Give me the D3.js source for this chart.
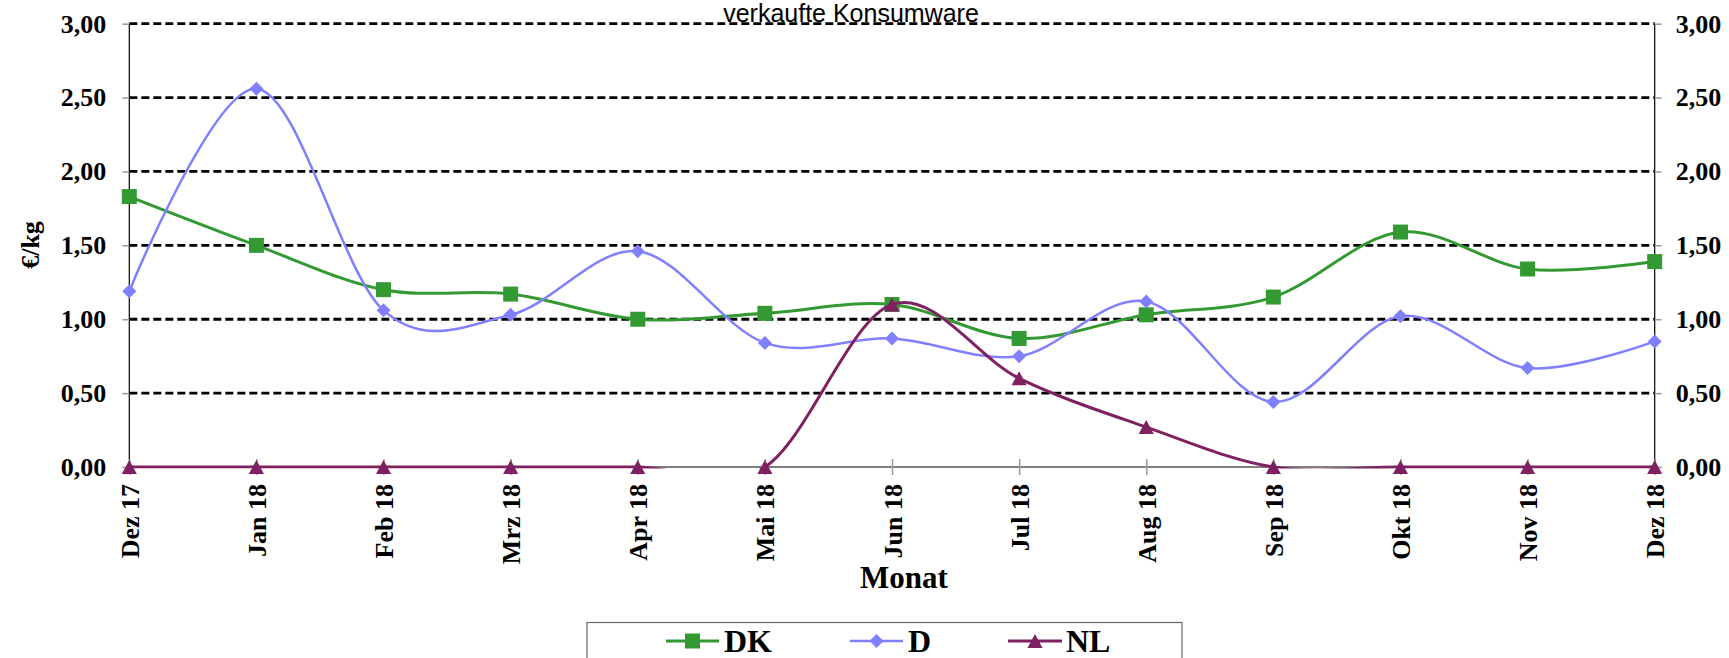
<!DOCTYPE html>
<html>
<head>
<meta charset="utf-8">
<script src="https://cdn.jsdelivr.net/npm/d3@7"></script>
<style>
  html, body { margin: 0; padding: 0; background: #fff; }
  svg { display: block; }
</style>
</head>
<body>
<svg id="chart" width="1729" height="658"></svg>
<script>
const months = ["Dez 17","Jan 18","Feb 18","Mrz 18","Apr 18","Mai 18","Jun 18","Jul 18","Aug 18","Sep 18","Okt 18","Nov 18","Dez 18"];
const dkValues = [1.83, 1.50, 1.20, 1.17, 1.00, 1.04, 1.10, 0.87, 1.03, 1.15, 1.59, 1.34, 1.39];
const dValues  = [1.19, 2.56, 1.06, 1.03, 1.46, 0.84, 0.87, 0.75, 1.12, 0.44, 1.02, 0.67, 0.85];
const nlValues = [0, 0, 0, 0, 0, 0, 1.10, 0.60, 0.27, 0, 0, 0, 0];
const yTickValues = [0, 0.5, 1.0, 1.5, 2.0, 2.5, 3.0];
const seriesNames = ["DK", "D", "NL"];
const titleText = "verkaufte Konsumware";
const yAxisTitle = "€/kg";
const xAxisTitle = "Monat";

(function () {
const colors = { DK: "#339933", D: "#8080ff", NL: "#7f2060" };
const series = [
  { name: "DK", values: dkValues, marker: "square", width: 3 },
  { name: "D", values: dValues, marker: "diamond", width: 2.5 },
  { name: "NL", values: nlValues, marker: "triangle", width: 3 }
];

const svg = d3.select("#chart");
const pLeft = 129.3, pRight = 1654.7, pTop = 23.7, pBottom = 467;
const x = d3.scalePoint().domain(months).range([pLeft, pRight]);
const y = d3.scaleLinear().domain([0, 3]).range([pBottom, pTop]);

const locale = d3.formatLocale({ decimal: ",", thousands: ".", grouping: [3], currency: ["", "€"] });
const fmt = locale.format(".2f");
const serif = "'Liberation Serif', 'Times New Roman', serif";

// Clip for the plot area (lines dipping under 0 are cut, as in the original)
svg.append("defs").append("clipPath").attr("id", "plotClip")
  .append("rect").attr("x", 0).attr("y", pTop - 5).attr("width", 1729).attr("height", pBottom - pTop + 6.5);

// Title
svg.append("text")
  .attr("x", 851).attr("y", 22)
  .attr("text-anchor", "middle")
  .attr("font-family", "'Liberation Sans', Arial, sans-serif")
  .attr("font-size", 25)
  .attr("fill", "#000")
  .text(titleText);

// Gridlines
svg.append("g").selectAll("line")
  .data(yTickValues.filter(v => v > 0))
  .join("line")
  .attr("x1", pLeft).attr("x2", pRight)
  .attr("y1", d => y(d)).attr("y2", d => y(d))
  .attr("stroke", "#000")
  .attr("stroke-width", 2.8)
  .attr("stroke-dasharray", "8,4");

// Left axis
const leftAxis = svg.append("g")
  .attr("transform", `translate(${pLeft},0)`)
  .call(d3.axisLeft(y).tickValues(yTickValues).tickFormat(fmt).tickSize(7).tickPadding(16));
// Right axis
const rightAxis = svg.append("g")
  .attr("transform", `translate(${pRight},0)`)
  .call(d3.axisRight(y).tickValues(yTickValues).tickFormat(fmt).tickSize(7).tickPadding(14));
[leftAxis, rightAxis].forEach(g => {
  g.select(".domain").attr("stroke", "#000").attr("stroke-width", 1.2).attr("d", `M0,${pTop}V${pBottom}`);
  g.selectAll(".tick line").attr("stroke", "#999").attr("stroke-width", 1.5);
  g.selectAll(".tick text")
    .attr("font-family", serif).attr("font-weight", "bold")
    .attr("font-size", 26).attr("fill", "#000");
});

// X axis
const xAxis = svg.append("g")
  .attr("transform", `translate(0,${pBottom})`)
  .call(d3.axisBottom(x).tickSize(8).tickSizeOuter(0));
xAxis.select(".domain").attr("d", `M${pLeft},0H${pRight}`).attr("stroke", "#000").attr("stroke-width", 1.2);
xAxis.selectAll(".tick line").attr("y1", -8).attr("y2", 8).attr("stroke", "#999").attr("stroke-width", 1.5);
xAxis.selectAll(".tick text")
  .attr("font-family", serif).attr("font-weight", "bold")
  .attr("font-size", 26).attr("fill", "#000")
  .attr("text-anchor", "end")
  .attr("transform", "rotate(-90)")
  .attr("x", -17).attr("y", 0).attr("dy", "0.35em");

// Axis titles
svg.append("text")
  .attr("transform", `translate(39,245) rotate(-90)`)
  .attr("text-anchor", "middle")
  .attr("font-family", serif).attr("font-weight", "bold")
  .attr("font-size", 26).attr("fill", "#000")
  .text(yAxisTitle);
svg.append("text")
  .attr("x", 904).attr("y", 588)
  .attr("text-anchor", "middle")
  .attr("font-family", serif).attr("font-weight", "bold")
  .attr("font-size", 31).attr("fill", "#000")
  .text(xAxisTitle);

// Marker shapes
const triangleType = { draw(ctx, size) { const h = Math.sqrt(size); ctx.moveTo(0, -h * 0.5); ctx.lineTo(h * 0.54, h * 0.5); ctx.lineTo(-h * 0.54, h * 0.5); ctx.closePath(); } };
const diamondType = { draw(ctx, size) { const r = Math.sqrt(size) / 2; ctx.moveTo(0, -r); ctx.lineTo(r, 0); ctx.lineTo(0, r); ctx.lineTo(-r, 0); ctx.closePath(); } };
const markerPath = {
  square: d3.symbol().type(d3.symbolSquare).size(225)(),
  diamond: d3.symbol().type(diamondType).size(196)(),
  triangle: d3.symbol().type(triangleType).size(196)()
};

const line = d3.line()
  .x((d, i) => x(months[i]))
  .y(d => y(d))
  .curve(d3.curveCardinal.tension(0));

series.forEach(s => {
  const g = svg.append("g");
  g.append("path")
    .attr("d", line(s.values))
    .attr("clip-path", "url(#plotClip)")
    .attr("fill", "none")
    .attr("stroke", colors[s.name])
    .attr("stroke-width", s.width)
    .attr("stroke-linejoin", "round");
  g.selectAll("path.m")
    .data(s.values)
    .join("path")
    .attr("class", "m")
    .attr("d", markerPath[s.marker])
    .attr("transform", (d, i) => `translate(${x(months[i])},${y(d)})`)
    .attr("fill", colors[s.name]);
});

// Legend
const legend = svg.append("g");
legend.append("rect")
  .attr("x", 587).attr("y", 622.5)
  .attr("width", 595).attr("height", 60)
  .attr("fill", "#fff").attr("stroke", "#666").attr("stroke-width", 1.2);
const legendItems = [
  { name: "DK", x1: 666, x2: 719, tx: 724 },
  { name: "D", x1: 850, x2: 903, tx: 908 },
  { name: "NL", x1: 1008, x2: 1062, tx: 1066 }
];
legendItems.forEach((it, i) => {
  const s = series[i];
  legend.append("line")
    .attr("x1", it.x1).attr("x2", it.x2).attr("y1", 641).attr("y2", 641)
    .attr("stroke", colors[it.name]).attr("stroke-width", s.width);
  legend.append("path")
    .attr("d", markerPath[s.marker])
    .attr("transform", `translate(${(it.x1 + it.x2) / 2},641)`)
    .attr("fill", colors[it.name]);
  legend.append("text")
    .attr("x", it.tx).attr("y", 652)
    .attr("font-family", serif).attr("font-weight", "bold")
    .attr("font-size", 32).attr("fill", "#000")
    .text(seriesNames[i]);
});
})();
</script>
</body>
</html>
